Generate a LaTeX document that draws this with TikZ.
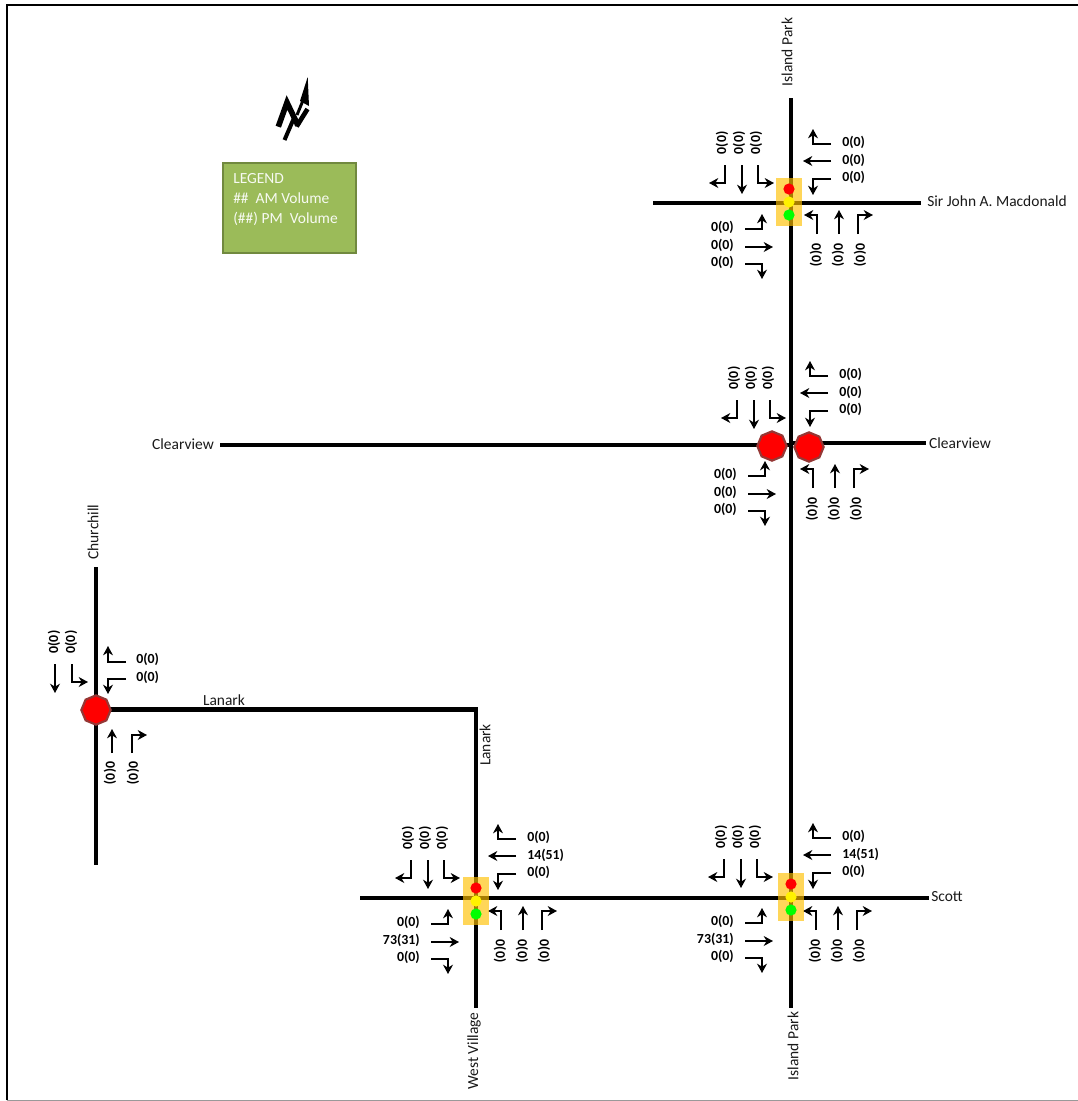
\documentclass[tikz,border=0pt]{standalone}
\usepackage{fontspec}
\setmainfont{Carlito}
\usetikzlibrary{arrows.meta, shapes.geometric}

\definecolor{legendgreen}{HTML}{9BBB59}
\definecolor{legendedge}{HTML}{71893F}
\definecolor{stopedge}{HTML}{953735}
\definecolor{signalbox}{HTML}{FFC000}

\tikzset{
    road/.style={line width=3.4pt},
    lane/.style={line width=1.9pt, -{Stealth[length=7pt, width=7.5pt]}},
    vol/.style={font=\bfseries\fontsize{10.4}{11}\selectfont, inner sep=0pt},
    streetname/.style={font=\fontsize{11.6}{12}\selectfont, inner sep=0pt, text=black!90},
    legendtext/.style={anchor=west, inner sep=0pt, text=white!92!legendgreen, font=\fontsize{11.6}{12}\selectfont},
    stopsign/.style={regular polygon, regular polygon sides=8, shape border rotate=22.5, minimum size=22pt,
        inner sep=0pt, fill=red, draw=stopedge, line width=1.6pt},
    lamp/.style={circle, minimum size=8.4pt, inner sep=0pt},
}

% one lane arrow, with a bend or without one
\newcommand{\turnlane}[4]{
    \coordinate (#1a) at (#2);
    \coordinate (#1b) at (#3);
    \coordinate (#1c) at (#4);
    \draw[lane] (#1a) -- (#1b) -- (#1c);
}
\newcommand{\thrulane}[3]{
    \coordinate (#1a) at (#2);
    \coordinate (#1c) at (#3);
    \draw[lane] (#1a) -- (#1c);
}

% approaches: #1 = prefix, #2 = start of the through lane, #3-#5 = volumes
\newcommand{\eastlanes}[5]{
    \begin{scope}[shift={(#2)}, name prefix=#1-]
        \turnlane{left}{0,-17}{-18,-17}{-18,-32}
        \thrulane{thru}{0,0}{-28,0}
        \turnlane{right}{0,18}{-18,18}{-18,34}
        \node[vol, anchor=west] (vl) at (11,-19) {#3};
        \node[vol, anchor=west] (vt) at (11,-1) {#4};
        \node[vol, anchor=west] (vr) at (11,16) {#5};
    \end{scope}
}
\newcommand{\northlanes}[5]{
    \begin{scope}[shift={(#2)}, name prefix=#1-]
        \turnlane{right}{-17,0}{-17,18}{-33,18}
        \thrulane{thru}{0,0}{0,29}
        \turnlane{left}{16,0}{16,18}{32,18}
        \node[vol, rotate=90] (vr) at (-20,-22) {#3};
        \node[vol, rotate=90] (vt) at (-3,-22) {#4};
        \node[vol, rotate=90] (vl) at (14,-22) {#5};
    \end{scope}
}
\newcommand{\westlanes}[5]{
    \begin{scope}[shift={(#2)}, name prefix=#1-]
        \turnlane{left}{0,-18}{17,-18}{17,-33}
        \thrulane{thru}{0,0}{28,0}
        \turnlane{right}{0,17}{17,17}{17,32}
        \node[vol, anchor=east] (vl) at (-11,-20) {#3};
        \node[vol, anchor=east] (vt) at (-11,-2) {#4};
        \node[vol, anchor=east] (vr) at (-11,15) {#5};
    \end{scope}
}
\newcommand{\southlanes}[5]{
    \begin{scope}[shift={(#2)}, name prefix=#1-]
        \turnlane{left}{-22,0}{-22,-19}{-35,-19}
        \thrulane{thru}{0,0}{0,-24}
        \turnlane{right}{19,0}{19,-19}{34,-19}
        \node[vol, rotate=-90] (vl) at (-23,21) {#3};
        \node[vol, rotate=-90] (vt) at (-1,21) {#4};
        \node[vol, rotate=-90] (vr) at (21,21) {#5};
    \end{scope}
}
% traffic signal head
\newcommand{\signalhead}[2]{
    \begin{scope}[shift={(#2)}, name prefix=#1-]
        \node[fill=signalbox, fill opacity=.65, minimum width=19.5pt, minimum height=35.5pt, inner sep=0pt] (box) at (0,0) {};
        \node[lamp, fill=red] (stop) at (0,-13) {};
        \node[lamp, fill=yellow] (wait) at (0,0) {};
        \node[lamp, fill=green] (go) at (0,13) {};
    \end{scope}
}

\begin{document}
\begin{tikzpicture}[x=0.75pt, y=-0.75pt]
    \useasboundingbox (0,0) rectangle (1078,1101);

    % frame
    \coordinate (frameTL) at (7,5);
    \coordinate (frameTR) at (1078,5);
    \coordinate (frameBL) at (7,1100.3);
    \coordinate (frameBR) at (1078,1100.3);
    \draw[black!40, line width=1pt] (frameBL) -- (frameBR);
    \draw[line width=1.6pt] (frameBL) -- (frameTL) -- (frameTR);

    % roads
    \coordinate (islandN) at (791,98);
    \coordinate (islandS) at (791,1008);
    \coordinate (sirW) at (653,203);
    \coordinate (sirE) at (921,203);
    \coordinate (clearW) at (220,445);
    \coordinate (clearM) at (791,445);
    \coordinate (clearMr) at (791,443);
    \coordinate (clearE) at (926,443);
    \coordinate (scottW) at (360,898);
    \coordinate (scottE) at (929,898);
    \coordinate (villageS) at (476,1008);
    \coordinate (bendNE) at (476,709.5);
    \coordinate (lanarkW) at (96,709.5);
    \coordinate (churchN) at (96,567);
    \coordinate (churchS) at (96,865);
    \draw[road] (islandN) -- (islandS);
    \draw[road] (sirW) -- (sirE);
    \draw[road] (clearW) -- (clearM);
    \draw[road] (clearMr) -- (clearE);
    \draw[road] (scottW) -- (scottE);
    \draw[road] (lanarkW) -- (bendNE) -- (villageS);
    \draw[road] (churchN) -- (churchS);

    % north symbol
    \fill (307.7,77) -- (300,101) -- (309,106) -- cycle;
    \draw[line width=2.2pt] (304,98) -- (297,115);
    \draw[line width=4.2pt] (278.3,126.7) -- (287,102.5) -- (298,125.5);
    \draw[line width=3.5pt] (296.6,126.5) -- (307.5,109);
    \draw[line width=3pt] (284.5,140) -- (294,118);

    % legend
    \node[draw=legendedge, fill=legendgreen, line width=1.3pt, minimum width=100pt, minimum height=67pt, inner sep=0pt] (legend) at (289.5,208) {};
    \node[legendtext] (legendA) at (233,178.5) {LEGEND};
    \node[legendtext] (legendB) at (233,198.5) {\#\#\ \ AM Volume};
    \node[legendtext] (legendC) at (233,218.5) {(\#\#) PM\ \ Volume};

    % Island Park at Sir John A. Macdonald
    \eastlanes{sirE}{831,161}{0(0)}{0(0)}{0(0)}
    \northlanes{sirN}{742,165}{0(0)}{0(0)}{0(0)}
    \westlanes{sirW}{745,247}{0(0)}{0(0)}{0(0)}
    \southlanes{sirS}{839,234}{0(0)}{0(0)}{0(0)}
    \signalhead{sirSig}{789,202}

    % Island Park at Clearview
    \eastlanes{clearE}{828,393}{0(0)}{0(0)}{0(0)}
    \northlanes{clearN}{754,400}{0(0)}{0(0)}{0(0)}
    \westlanes{clearW}{748,494}{0(0)}{0(0)}{0(0)}
    \southlanes{clearS}{835,488}{0(0)}{0(0)}{0(0)}
    \node[stopsign] (stopClearW) at (772,446) {};
    \node[stopsign] (stopClearE) at (809,447) {};

    % West Village at Scott
    \eastlanes{villE}{516,856}{0(0)}{14(51)}{0(0)}
    \northlanes{villN}{428,860}{0(0)}{0(0)}{0(0)}
    \westlanes{villW}{431,942}{0(0)}{73(31)}{0(0)}
    \southlanes{villS}{523,930}{0(0)}{0(0)}{0(0)}
    \signalhead{villSig}{476,901}

    % Island Park at Scott
    \eastlanes{scottE}{831,855}{0(0)}{14(51)}{0(0)}
    \northlanes{scottN}{741,859}{0(0)}{0(0)}{0(0)}
    \westlanes{scottW}{745,941}{0(0)}{73(31)}{0(0)}
    \southlanes{scottS}{838,930}{0(0)}{0(0)}{0(0)}
    \signalhead{scottSig}{791,897}

    % Churchill at Lanark
    \thrulane{chN}{55,664}{55,693}
    \turnlane{chNr}{72,664}{72,682}{88,682}
    \turnlane{chEl}{126,662}{108,662}{108,646}
    \turnlane{chEr}{126,679}{108,679}{108,694}
    \thrulane{chS}{112,753}{112,729}
    \turnlane{chSr}{132,753}{132,735}{147,735}
    \node[vol, rotate=90] (chV1) at (54,642) {0(0)};
    \node[vol, rotate=90] (chV2) at (71,642) {0(0)};
    \node[vol, anchor=west] (chV3) at (136,659) {0(0)};
    \node[vol, anchor=west] (chV4) at (136,677) {0(0)};
    \node[vol, rotate=-90] (chV5) at (110,773) {0(0)};
    \node[vol, rotate=-90] (chV6) at (133,773) {0(0)};
    \node[stopsign] (stopChurch) at (96,710) {};

    % street names
    \node[streetname, rotate=90] (nameIslandN) at (787,52) {Island Park};
    \node[streetname, rotate=90] (nameIslandS) at (793,1046) {Island Park};
    \node[streetname, rotate=90] (nameVillage) at (474,1051) {West Village};
    \node[streetname, rotate=90] (nameLanarkV) at (485,745) {Lanark};
    \node[streetname, rotate=90] (nameChurch) at (93,532) {Churchill};
    \node[streetname] (nameSir) at (997,201) {Sir John A. Macdonald};
    \node[streetname] (nameClearW) at (183,444) {Clearview};
    \node[streetname] (nameClearE) at (960,443) {Clearview};
    \node[streetname] (nameLanark) at (224,700) {Lanark};
    \node[streetname] (nameScott) at (947,897) {Scott};
\end{tikzpicture}
\end{document}
